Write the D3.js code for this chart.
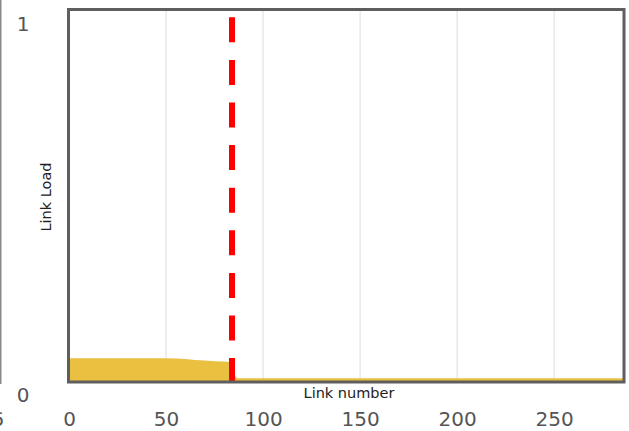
<!DOCTYPE html>
<html>
<head>
<meta charset="utf-8">
<script src="https://cdn.jsdelivr.net/npm/d3@7"></script>
<style>
  html, body { margin: 0; padding: 0; background: #fff; }
  svg { display: block; }
</style>
</head>
<body>
<svg id="chart" width="629" height="431"></svg>
<script>
// Load per link, sampled at the links where the profile changes
const linkNumbers = [0, 10, 20, 30, 40, 50, 55, 60, 65, 70, 75, 80, 83, 84, 85, 86, 87, 120, 160, 200, 240, 286];
const linkLoads   = [0.064, 0.064, 0.064, 0.064, 0.064, 0.064, 0.063, 0.062, 0.059, 0.058, 0.056, 0.055, 0.054, 0.046, 0.027, 0.013, 0.010, 0.010, 0.010, 0.010, 0.010, 0.010];

// Position of the split marker (dashed line)
const splitLink = 84;

const xTicks = [0, 50, 100, 150, 200, 250];
const xGrid = [50, 100, 150, 200, 250];
const yTicks = [0, 1];

const svg = d3.select("#chart");

const x = d3.scaleLinear().domain([0, 286]).range([69, 624]);
const y = d3.scaleLinear().domain([0, 1]).range([382, 10]);

const data = linkNumbers.map((n, i) => ({ n, v: linkLoads[i] }));

// vertical grid
svg.append("g")
  .selectAll("line")
  .data(xGrid)
  .join("line")
  .attr("x1", d => x(d)).attr("x2", d => x(d))
  .attr("y1", y(1)).attr("y2", y(0))
  .attr("stroke", "#dcdcdc")
  .attr("stroke-width", 1);

// load area
const area = d3.area()
  .x(d => x(d.n))
  .y0(y(0))
  .y1(d => y(d.v));

svg.append("path")
  .datum(data)
  .attr("d", area)
  .attr("fill", "#e9c03f");

// split marker
svg.append("line")
  .attr("x1", x(splitLink)).attr("x2", x(splitLink))
  .attr("y1", y(1)).attr("y2", y(0))
  .attr("stroke", "#ff0000")
  .attr("stroke-width", 6)
  .attr("stroke-dasharray", "25 17.6")
  .attr("stroke-dashoffset", 35.3);

// plot frame
svg.append("rect")
  .attr("x", x(0) - 0.5)
  .attr("y", y(1) - 0.5)
  .attr("width", x(286) - x(0) + 0.5)
  .attr("height", y(0) - y(1) + 0.5)
  .attr("fill", "none")
  .attr("stroke", "#5e5e5e")
  .attr("stroke-width", 3);

// x tick labels
const xAxis = d3.axisBottom(x).tickValues(xTicks).tickSize(0).tickPadding(0);
const gx = svg.append("g").attr("transform", `translate(0,${y(0)})`).call(xAxis);
gx.select(".domain").remove();
gx.selectAll("text")
  .attr("y", 44)
  .attr("dy", 0)
  .attr("fill", "#555")
  .style("font-family", "DejaVu Sans")
  .style("font-size", "20px");

// y tick labels
const gy = svg.append("g");
gy.selectAll("text")
  .data(yTicks)
  .join("text")
  .attr("x", 23)
  .attr("y", d => y(d) + (d === 0 ? 20 : 21))
  .attr("text-anchor", "middle")
  .attr("fill", "#555")
  .style("font-family", "DejaVu Sans")
  .style("font-size", "20px")
  .text(d => d);

// axis titles
svg.append("text")
  .attr("x", 349)
  .attr("y", 398)
  .attr("text-anchor", "middle")
  .attr("fill", "#222")
  .style("font-family", "DejaVu Sans")
  .style("font-size", "14.5px")
  .text("Link number");

svg.append("text")
  .attr("transform", "translate(51,197) rotate(-90)")
  .attr("text-anchor", "middle")
  .attr("fill", "#222")
  .style("font-family", "DejaVu Sans")
  .style("font-size", "14.5px")
  .text("Link Load");

// edge of the neighbouring panel
svg.append("line")
  .attr("x1", 0.5).attr("x2", 0.5)
  .attr("y1", 0).attr("y2", 384)
  .attr("stroke", "#8a8a8a")
  .attr("stroke-width", 2);

svg.append("text")
  .attr("x", 4)
  .attr("y", 426)
  .attr("text-anchor", "end")
  .attr("fill", "#555")
  .style("font-family", "DejaVu Sans")
  .style("font-size", "20px")
  .text("6");
</script>
</body>
</html>
